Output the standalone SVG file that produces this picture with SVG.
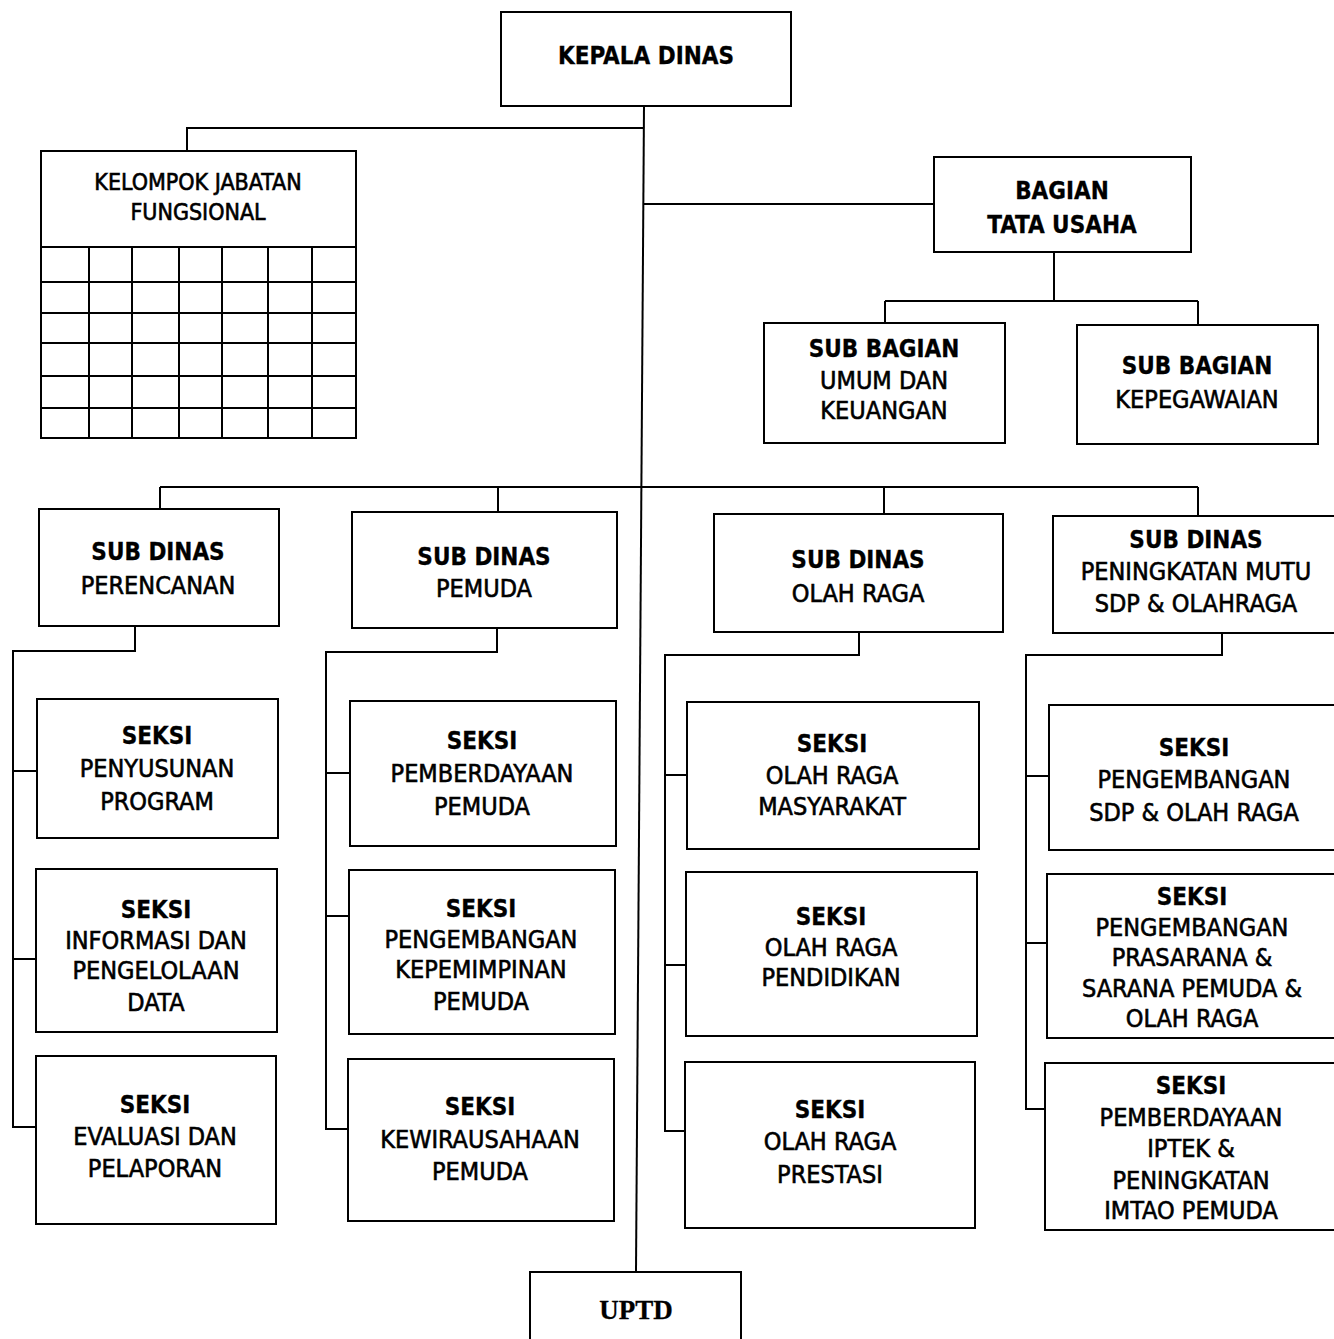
<svg xmlns="http://www.w3.org/2000/svg" width="1334" height="1339" viewBox="0 0 1334 1339">
<style>
.box{fill:#fff;stroke:#000;stroke-width:2}
.ln{fill:none;stroke:#000;stroke-width:2}
.t{font-family:"DejaVu Sans Condensed","DejaVu Sans",sans-serif;font-stretch:condensed;font-size:25px;text-anchor:middle;fill:#000;stroke:#000;stroke-width:0.6}
.b{font-weight:bold;font-size:24px;stroke-width:0.3}
.s{font-size:23px}
.u{font-family:"Liberation Serif",serif;font-stretch:normal;font-weight:bold;font-size:27px;stroke-width:0.3}
</style>
<rect width="1334" height="1339" fill="#fff"/>
<g id="connectors" class="ln">
<path d="M644 106 L636 1272"/>
<path d="M643 128 H187 V152"/>
<path d="M643 204 H934"/>
<path d="M1054 252 V301 M885 301 H1198 M885 301 V323 M1198 301 V325"/>
<path d="M160 487 H1198 M160 487 V509 M498 487 V512 M884 487 V514 M1198 487 V516"/>
<path d="M135 626 V651 H13 V1127 H36 M13 771 H37 M13 959 H36"/>
<path d="M497 628 V652 H326 V1129 H348 M326 773 H350 M326 916 H349"/>
<path d="M859 632 V655 H665 V1131 H685 M665 775 H687 M665 965 H686"/>
<path d="M1222 633 V655 H1026 V1109 H1045 M1026 776 H1049 M1026 943 H1047"/>
</g>
<g id="kepala-dinas"><rect class="box" x="501" y="12" width="290" height="94"/><text class="t b" x="646" y="64">KEPALA DINAS</text></g>
<g id="kelompok-jabatan-fungsional">
<rect class="box" x="41" y="151" width="315" height="287"/>
<path class="ln" d="M41 247 H356 M41 282 H356 M41 313 H356 M41 343 H356 M41 376 H356 M41 408 H356 M89 247 V438 M132 247 V438 M179 247 V438 M222 247 V438 M268 247 V438 M312 247 V438"/>
<text class="t s" x="198" y="190">KELOMPOK JABATAN</text><text class="t s" x="198" y="220">FUNGSIONAL</text>
</g>
<g id="bagian-tata-usaha"><rect class="box" x="934" y="157" width="257" height="95"/><text class="t b" x="1062" y="199">BAGIAN</text><text class="t b" x="1062" y="233">TATA USAHA</text></g>
<g id="sub-bagian-umum"><rect class="box" x="764" y="323" width="241" height="120"/><text class="t b" x="884" y="357">SUB BAGIAN</text><text class="t" x="884" y="389">UMUM DAN</text><text class="t" x="884" y="419">KEUANGAN</text></g>
<g id="sub-bagian-kepegawaian"><rect class="box" x="1077" y="325" width="241" height="119"/><text class="t b" x="1197" y="374">SUB BAGIAN</text><text class="t" x="1197" y="408">KEPEGAWAIAN</text></g>
<g id="sub-dinas-perencanan"><rect class="box" x="39" y="509" width="240" height="117"/><text class="t b" x="158" y="560">SUB DINAS</text><text class="t" x="158" y="594">PERENCANAN</text></g>
<g id="sub-dinas-pemuda"><rect class="box" x="352" y="512" width="265" height="116"/><text class="t b" x="484" y="565">SUB DINAS</text><text class="t" x="484" y="597">PEMUDA</text></g>
<g id="sub-dinas-olah-raga"><rect class="box" x="714" y="514" width="289" height="118"/><text class="t b" x="858" y="568">SUB DINAS</text><text class="t" x="858" y="602">OLAH RAGA</text></g>
<g id="sub-dinas-peningkatan"><rect class="box" x="1053" y="516" width="300" height="117"/><text class="t b" x="1196" y="548">SUB DINAS</text><text class="t" x="1196" y="580">PENINGKATAN MUTU</text><text class="t" x="1196" y="612">SDP &amp; OLAHRAGA</text></g>
<g id="seksi-penyusunan"><rect class="box" x="37" y="699" width="241" height="139"/><text class="t b" x="157" y="744">SEKSI</text><text class="t" x="157" y="777">PENYUSUNAN</text><text class="t" x="157" y="810">PROGRAM</text></g>
<g id="seksi-informasi"><rect class="box" x="36" y="869" width="241" height="163"/><text class="t b" x="156" y="918">SEKSI</text><text class="t" x="156" y="949">INFORMASI DAN</text><text class="t" x="156" y="979">PENGELOLAAN</text><text class="t" x="156" y="1011">DATA</text></g>
<g id="seksi-evaluasi"><rect class="box" x="36" y="1056" width="240" height="168"/><text class="t b" x="155" y="1113">SEKSI</text><text class="t" x="155" y="1145">EVALUASI DAN</text><text class="t" x="155" y="1177">PELAPORAN</text></g>
<g id="seksi-pemberdayaan-pemuda"><rect class="box" x="350" y="701" width="266" height="145"/><text class="t b" x="482" y="749">SEKSI</text><text class="t" x="482" y="782">PEMBERDAYAAN</text><text class="t" x="482" y="815">PEMUDA</text></g>
<g id="seksi-kepemimpinan"><rect class="box" x="349" y="870" width="266" height="164"/><text class="t b" x="481" y="917">SEKSI</text><text class="t" x="481" y="948">PENGEMBANGAN</text><text class="t" x="481" y="978">KEPEMIMPINAN</text><text class="t" x="481" y="1010">PEMUDA</text></g>
<g id="seksi-kewirausahaan"><rect class="box" x="348" y="1059" width="266" height="162"/><text class="t b" x="480" y="1115">SEKSI</text><text class="t" x="480" y="1148">KEWIRAUSAHAAN</text><text class="t" x="480" y="1180">PEMUDA</text></g>
<g id="seksi-or-masyarakat"><rect class="box" x="687" y="702" width="292" height="147"/><text class="t b" x="832" y="752">SEKSI</text><text class="t" x="832" y="784">OLAH RAGA</text><text class="t" x="832" y="815">MASYARAKAT</text></g>
<g id="seksi-or-pendidikan"><rect class="box" x="686" y="872" width="291" height="164"/><text class="t b" x="831" y="925">SEKSI</text><text class="t" x="831" y="956">OLAH RAGA</text><text class="t" x="831" y="986">PENDIDIKAN</text></g>
<g id="seksi-or-prestasi"><rect class="box" x="685" y="1062" width="290" height="166"/><text class="t b" x="830" y="1118">SEKSI</text><text class="t" x="830" y="1150">OLAH RAGA</text><text class="t" x="830" y="1183">PRESTASI</text></g>
<g id="seksi-pengembangan-sdp"><rect class="box" x="1049" y="705" width="300" height="145"/><text class="t b" x="1194" y="756">SEKSI</text><text class="t" x="1194" y="788">PENGEMBANGAN</text><text class="t" x="1194" y="821">SDP &amp; OLAH RAGA</text></g>
<g id="seksi-prasarana"><rect class="box" x="1047" y="874" width="300" height="164"/><text class="t b" x="1192" y="905">SEKSI</text><text class="t" x="1192" y="936">PENGEMBANGAN</text><text class="t" x="1192" y="966">PRASARANA &amp;</text><text class="t" x="1192" y="997">SARANA PEMUDA &amp;</text><text class="t" x="1192" y="1027">OLAH RAGA</text></g>
<g id="seksi-iptek"><rect class="box" x="1045" y="1063" width="300" height="167"/><text class="t b" x="1191" y="1094">SEKSI</text><text class="t" x="1191" y="1126">PEMBERDAYAAN</text><text class="t" x="1191" y="1157">IPTEK &amp;</text><text class="t" x="1191" y="1189">PENINGKATAN</text><text class="t" x="1191" y="1219">IMTAO PEMUDA</text></g>
<g id="uptd"><rect class="box" x="530" y="1272" width="211" height="80"/><text class="t u" x="636" y="1319">UPTD</text></g>
</svg>
